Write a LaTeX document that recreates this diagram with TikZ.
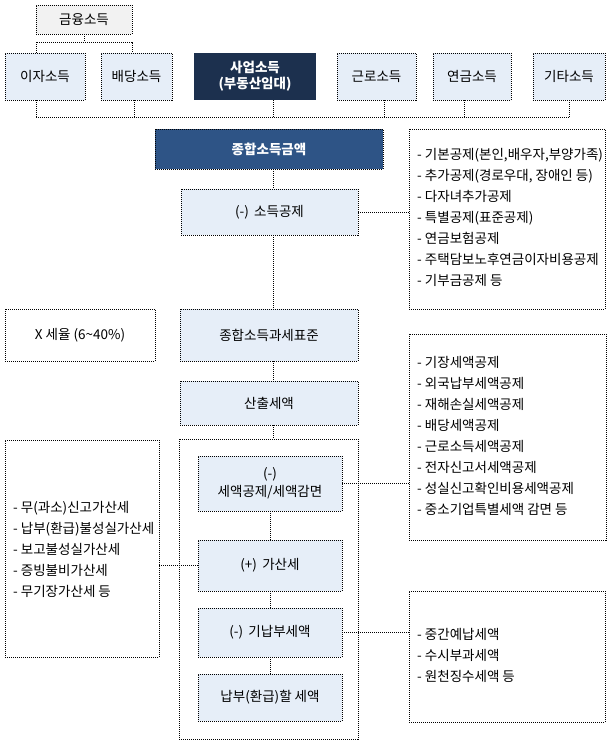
\documentclass[tikz,border=0pt]{standalone}
\usepackage{fontspec}
\setmainfont{Noto Sans CJK KR}
\definecolor{lblue}{RGB}{230,238,248}
\definecolor{lgray}{RGB}{242,242,242}
\definecolor{navy}{RGB}{28,48,78}
\definecolor{mblue}{RGB}{46,84,134}
\begin{document}
\begin{tikzpicture}[x=1pt,y=-1pt,
  dotline/.style={draw=black, line width=0.9pt, dash pattern=on 1pt off 1pt},
  box/.style={dotline, fill=lblue, inner sep=0pt, align=center, font=\fontsize{13.5}{18}\selectfont},
  plainbox/.style={dotline, fill=white, inner sep=0pt, align=center, font=\fontsize{13.5}{18}\selectfont},
  darkbox/.style={fill=#1, text=white, inner sep=0pt, align=center, font=\bfseries\fontsize{13.5}{16}\selectfont},
  listbox/.style={dotline, fill=white, inner sep=0pt},
  listtext/.style={inner sep=0pt, anchor=west, align=left, font=\fontsize{13.5}{21}\selectfont},
  conn/.style={dotline}
]
\useasboundingbox (0,0) rectangle (611,752);
% top row
\node[box, fill=lgray, minimum width=96pt, minimum height=29pt] (geumyung) at (84,19.5) {금융소득};
\node[box, minimum width=80pt, minimum height=47pt] (ija) at (45,76.5) {이자소득};
\node[box, minimum width=71pt, minimum height=47pt] (baedang) at (136.5,76.5) {배당소득};
\node[darkbox=navy, minimum width=122pt, minimum height=47pt] (saeop) at (255,76.5) {사업소득\\(부동산임대)};
\node[box, minimum width=79pt, minimum height=47pt] (geunro) at (376.5,76.5) {근로소득};
\node[box, minimum width=78pt, minimum height=47pt] (yeongeum) at (472,76.5) {연금소득};
\node[box, minimum width=72pt, minimum height=47pt] (gita) at (569,76.5) {기타소득};
% top connector
\coordinate (tl) at (36,42);
\coordinate (tr) at (132,42);
\draw[conn] (geumyung.south) -- (geumyung.south |- tl);
\draw[conn] (ija.north -| tl) -- (tl) -- (tr) -- (baedang.north -| tr);
% bus
\coordinate (b1) at (36,117);
\coordinate (b2) at (134,117);
\coordinate (b3) at (273,117);
\coordinate (b4) at (384,117);
\coordinate (b5) at (464,117);
\coordinate (b6) at (569,117);
\draw[conn] (b1) -- (b6);
\draw[conn] (ija.south -| b1) -- (b1);
\draw[conn] (baedang.south -| b2) -- (b2);
\draw[conn] (saeop.south -| b3) -- (b3);
\draw[conn] (geunro.south -| b4) -- (b4);
\draw[conn] (yeongeum.south -| b5) -- (b5);
\draw[conn] (gita.south -| b6) -- (b6);
% main column
\coordinate (sp) at (273,0);
\node[darkbox=mblue, dotline, minimum width=228pt, minimum height=40pt] (jonghap) at (269,149) {종합소득금액};
\node[box, minimum width=177pt, minimum height=46pt] (sodeuk) at (269.5,212) {(-)\, 소득공제};
\node[listbox, minimum width=196pt, minimum height=180pt] (list1) at (507,219) {};
\node[listtext] (t1) at (417,217) {- 기본공제(본인,배우자,부양가족)\\- 추가공제(경로우대, 장애인 등)\\- 다자녀추가공제\\- 특별공제(표준공제)\\- 연금보험공제\\- 주택담보노후연금이자비용공제\\- 기부금공제 등};
\node[plainbox, minimum width=150pt, minimum height=52pt] (seyul) at (80,335) {X 세율 (6\textasciitilde 40\%)};
\node[box, minimum width=178pt, minimum height=52pt] (gwase) at (269,335) {종합소득과세표준};
\node[box, minimum width=178pt, minimum height=44pt] (sanchul) at (269,403) {산출세액};
\node[dotline, minimum width=179pt, minimum height=300pt, inner sep=0pt] (cont) at (268.5,589) {};
\node[box, minimum width=144pt, minimum height=55pt] (sekgong) at (270,483.5) {(-)\\세액공제/세액감면};
\node[box, minimum width=144pt, minimum height=51pt] (gasan) at (270,565.5) {(+)\, 가산세};
\node[box, minimum width=144pt, minimum height=49pt] (ginap) at (270,632.5) {(-)\, 기납부세액};
\node[box, minimum width=144pt, minimum height=47pt] (nap) at (270,697.5) {납부(환급)할 세액};
\node[listbox, minimum width=154pt, minimum height=217pt] (list0) at (82,548.5) {};
\node[listtext] (t0) at (13,549) {- 무(과소)신고가산세\\- 납부(환급)불성실가산세\\- 보고불성실가산세\\- 증빙불비가산세\\- 무기장가산세 등};
\node[listbox, minimum width=197pt, minimum height=206pt] (list2) at (507.5,437) {};
\node[listtext] (t2) at (417,435.5) {- 기장세액공제\\- 외국납부세액공제\\- 재해손실세액공제\\- 배당세액공제\\- 근로소득세액공제\\- 전자신고서세액공제\\- 성실신고확인비용세액공제\\- 중소기업특별세액 감면 등};
\node[listbox, minimum width=196pt, minimum height=131pt] (list3) at (507,656.5) {};
\node[listtext] (t3) at (417,655.5) {- 중간예납세액\\- 수시부과세액\\- 원천징수세액 등};
% connectors
\draw[conn] (jonghap.south -| sp) -- (sodeuk.north -| sp);
\draw[conn] (sodeuk.south -| sp) -- (gwase.north -| sp);
\draw[conn] (gwase.south -| sp) -- (sanchul.north -| sp);
\draw[conn] (sanchul.south -| sp) -- (cont.north -| sp);
\draw[conn] (sodeuk.east) -- (sodeuk.east -| list1.west);
\draw[conn] (sekgong.south) -- (gasan.north);
\draw[conn] (gasan.south) -- (ginap.north);
\draw[conn] (ginap.south) -- (nap.north);
\draw[conn] (sekgong.east) -- (sekgong.east -| list2.west);
\draw[conn] (ginap.east) -- (ginap.east -| list3.west);
\draw[conn] (gasan.west -| list0.east) -- (gasan.west);
\end{tikzpicture}
\end{document}
